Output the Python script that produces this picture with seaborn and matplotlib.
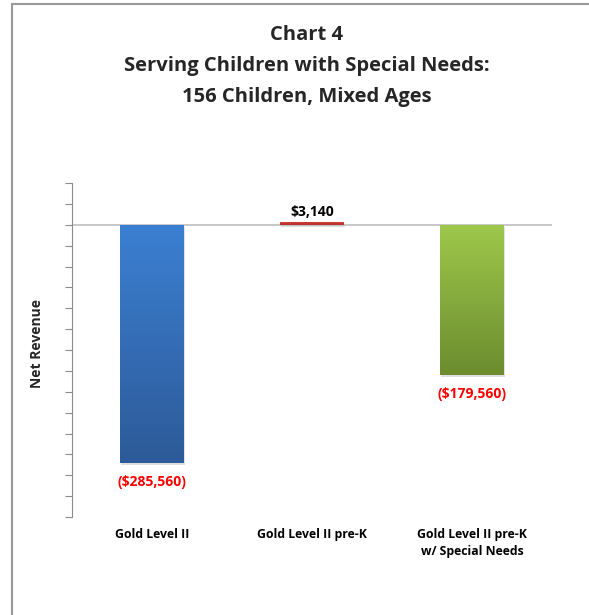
import numpy as np
import pandas as pd
import matplotlib
matplotlib.use("Agg")
import matplotlib.pyplot as plt
import seaborn as sns
from matplotlib.colors import LinearSegmentedColormap
from matplotlib.lines import Line2D

categories = ["Gold Level II", "Gold Level II pre-K", "Gold Level II pre-K\nw/ Special Needs"]
values = [-285560, 3140, -179560]
value_labels = ["($285,560)", "$3,140", "($179,560)"]
title_lines = ["Chart 4", "Serving Children with Special Needs:", "156 Children, Mixed Ages"]
y_label = "Net Revenue"

sns.set_theme(style="white")
plt.rcParams['font.family'] = ['Open Sans', 'DejaVu Sans']

W, H = 589, 615
fig = plt.figure(figsize=(W / 100, H / 100), dpi=100)
ax = fig.add_axes([72 / W, 1 - 517 / H, 480 / W, (517 - 183) / H])

df = pd.DataFrame({"cat": categories, "val": values})
sns.barplot(data=df, x="cat", y="val", ax=ax, width=0.4, color="#3A7FD0", saturation=1)

ax.set_ylim(-350000, 50000)
ax.set_yticks(np.arange(-350000, 50001, 25000))
ax.set_yticklabels([])
ax.set_xlim(-0.5, 2.5)

grads = [("#3B80D2", "#2D5A98"), ("#D03A35", "#B8302C"), ("#9DC84A", "#6C8C2F")]
for patch, (c1, c2) in zip(ax.patches, grads):
    x0, y0 = patch.get_x(), patch.get_y()
    w, h = patch.get_width(), patch.get_height()
    ylo, yhi = min(y0, y0 + h), max(y0, y0 + h)
    cmap = LinearSegmentedColormap.from_list("g", [c2, c1])
    grad = np.linspace(0, 1, 256).reshape(-1, 1)
    ax.add_patch(plt.Rectangle((x0 + 0.008, ylo - 2500), w, yhi - ylo, color="#000000", alpha=0.12, zorder=1, lw=0))
    im = ax.imshow(grad, extent=[x0, x0 + w, ylo, yhi], origin="lower", aspect="auto", cmap=cmap, zorder=2)
    im.set_clip_path(patch)
    patch.set_alpha(0)
    patch.set_zorder(2)

ax.axhline(0, color="#BFBFBF", lw=1.2, zorder=1.5)

for i, (v, lab) in enumerate(zip(values, value_labels)):
    if v < 0:
        ax.text(i, v - 23000, lab, ha="center", va="center", color="#FF0000", fontsize=10, fontweight="bold")
    else:
        ax.text(i, v + 4000, lab, ha="center", va="bottom", color="#000000", fontsize=10, fontweight="bold")

for s in ["top", "right", "bottom"]:
    ax.spines[s].set_visible(False)
ax.spines["left"].set_color("#8C8C8C")
ax.spines["left"].set_linewidth(0.8)
ax.tick_params(axis="y", left=True, length=5, width=0.8, color="#8C8C8C", direction="out")
ax.tick_params(axis="x", bottom=False, pad=0)
ax.set_xticklabels([])
ax.set_xlabel("")
ax.set_ylabel("")

for i, c in enumerate(categories):
    fig.text((72 + 80 + 160 * i) / W, 1 - 528 / H, c, ha="center", va="top", fontsize=8.8,
             fontweight="bold", color="#000000", linespacing=1.35)

fig.text(37 / W, 1 - 343 / H, y_label, rotation=90, ha="center", va="center", fontsize=10, fontweight="bold")

for j, t in enumerate(title_lines):
    fig.text(307 / W, 1 - (35 + 31 * j) / H, t, ha="center", va="center", fontsize=14.5, fontweight="bold")

fig.add_artist(Line2D([12 / W, 1], [1 - 4 / H, 1 - 4 / H], color="#999999", lw=1.5, transform=fig.transFigure))
fig.add_artist(Line2D([12 / W, 12 / W], [0, 1 - 4 / H], color="#999999", lw=1.5, transform=fig.transFigure))

fig.savefig("out.png", dpi=100)
